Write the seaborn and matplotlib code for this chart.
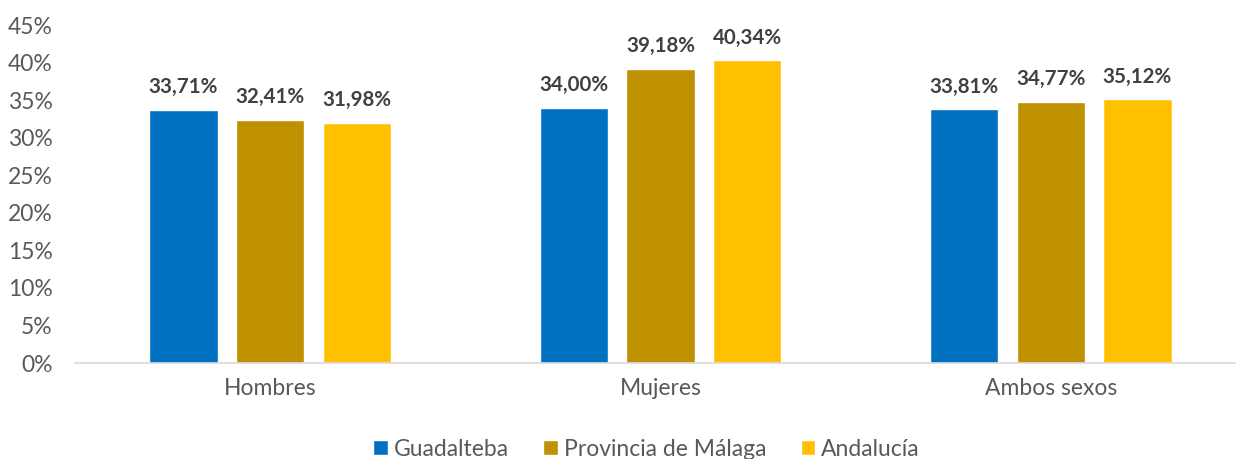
import matplotlib
matplotlib.use("Agg")
import matplotlib.pyplot as plt
import seaborn as sns
import pandas as pd
from matplotlib.ticker import FuncFormatter, MultipleLocator

categories = ["Hombres", "Mujeres", "Ambos sexos"]
series = ["Guadalteba", "Provincia de Málaga", "Andalucía"]
guadalteba = [33.71, 34.00, 33.81]
malaga = [32.41, 39.18, 34.77]
andalucia = [31.98, 40.34, 35.12]
colors = ["#0070C0", "#BF9000", "#FFC000"]

rows = []
for name, vals in zip(series, [guadalteba, malaga, andalucia]):
    for cat, v in zip(categories, vals):
        rows.append({"Sexo": cat, "Ámbito": name, "Valor": v})
df = pd.DataFrame(rows)

sns.set_theme(style="white")
plt.rcParams["font.family"] = ["Lato", "DejaVu Sans"]

fig = plt.figure(figsize=(12.36, 4.59), dpi=100)
ax = fig.add_axes([75 / 1236, 1 - 363 / 459, 1 - 75 / 1236 + 0.008, 338 / 459])

sns.barplot(data=df, x="Sexo", y="Valor", hue="Ámbito", order=categories,
            hue_order=series, palette=colors, width=0.666, gap=0.21,
            ax=ax, legend=True, saturation=1)

for cont in ax.containers:
    labels = [f"{v:.2f}%".replace(".", ",") for v in cont.datavalues]
    ax.bar_label(cont, labels=labels, padding=9, fontsize=14.8,
                 fontweight="bold", color="#404040")

ax.set_ylim(0, 45)
ax.set_xlim(-0.5, 2.5)
ax.yaxis.set_major_locator(MultipleLocator(5))
ax.yaxis.set_major_formatter(FuncFormatter(lambda v, p: f"{v:.0f}%"))
ax.tick_params(axis="y", labelsize=16.5, colors="#595959", length=0, pad=16)
ax.tick_params(axis="x", labelsize=16.5, colors="#595959", length=0, pad=11)
ax.set_xlabel("")
ax.set_ylabel("")
for s in ["top", "right", "left"]:
    ax.spines[s].set_visible(False)
ax.spines["bottom"].set_color("#D9D9D9")
ax.spines["bottom"].set_linewidth(1.2)

handles, labels = ax.get_legend_handles_labels()
ax.legend(handles, labels, loc="center", bbox_to_anchor=(0.5 - 0.012, -0.255),
          ncol=3, frameon=False, fontsize=16.5, handlelength=0.65,
          handleheight=0.65, handletextpad=0.25, columnspacing=1.5,
          labelcolor="#595959")

fig.savefig("out.png", dpi=100)
